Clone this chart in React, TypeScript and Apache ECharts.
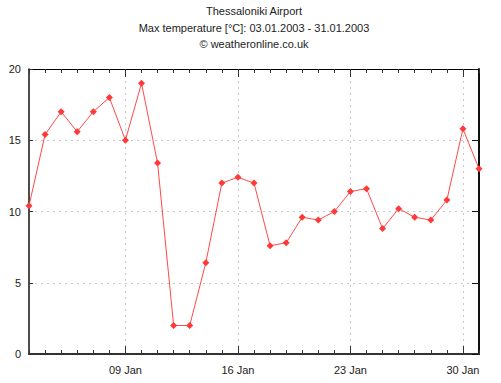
import React, { useEffect, useRef } from "react";
import * as echarts from "echarts";

const titleLines = [
  "Thessaloniki Airport",
  "Max temperature [°C]: 03.01.2003 - 31.01.2003",
  "© weatheronline.co.uk",
];

const days = [3, 4, 5, 6, 7, 8, 9, 10, 11, 12, 13, 14, 15, 16, 17, 18, 19, 20, 21, 22, 23, 24, 25, 26, 27, 28, 29, 30, 31];
const categories = days.map((d) => `${d < 10 ? "0" + d : d} Jan`);
const maxTemp = [10.4, 15.4, 17.0, 15.6, 17.0, 18.0, 15.0, 19.0, 13.4, 2.0, 2.0, 6.4, 12.0, 12.4, 12.0, 7.6, 7.8, 9.6, 9.4, 10.0, 11.4, 11.6, 8.8, 10.2, 9.6, 9.4, 10.8, 15.8, 13.0];
const labelledDays = [9, 16, 23, 30];
const yTicks = { min: 0, max: 20, interval: 5 };

const isMajor = (i: number) => labelledDays.indexOf(days[i]) >= 0;

export default function App() {
  const ref = useRef<HTMLDivElement>(null);
  useEffect(() => {
    if (!ref.current) return;
    const chart = echarts.init(ref.current, null, { renderer: "svg" });
    const font = "'Liberation Sans', Arial, sans-serif";
    const baseX = {
      type: "category" as const,
      data: categories,
      boundaryGap: false,
      gridIndex: 0,
    };
    chart.setOption({
      animation: false,
      backgroundColor: "#ffffff",
      title: titleLines.map((t, i) => ({
        text: t,
        left: 254,
        textAlign: "center",
        top: [4, 21, 37][i],
        padding: 0,
        textStyle: { fontSize: 11, fontWeight: "normal", color: "#222", fontFamily: font, lineHeight: 14 },
      })),
      grid: { left: 29, right: 22, top: 69, bottom: 29 },
      xAxis: [
        {
          ...baseX,
          position: "bottom",
          axisLine: { show: true, lineStyle: { color: "#333", width: 2 } },
          axisTick: { show: true, inside: true, length: 4, interval: 0, lineStyle: { color: "#333" } },
          axisLabel: {
            interval: (i: number) => isMajor(i),
            margin: 10,
            fontSize: 11,
            color: "#222",
            fontFamily: font,
          },
          splitLine: {
            show: true,
            interval: (i: number) => isMajor(i),
            lineStyle: { color: "#c8c8c8", type: [2, 4], width: 1 },
          },
        },
        {
          ...baseX,
          position: "bottom",
          axisLine: { show: false },
          axisTick: { show: true, inside: true, length: 8, interval: (i: number) => isMajor(i), lineStyle: { color: "#333" } },
          axisLabel: { show: false },
          splitLine: { show: false },
        },
        {
          ...baseX,
          position: "top",
          axisLine: { show: true, lineStyle: { color: "#000", width: 1 } },
          axisTick: { show: true, inside: true, length: 4, interval: 0, lineStyle: { color: "#333" } },
          axisLabel: { show: false },
          splitLine: { show: false },
        },
        {
          ...baseX,
          position: "top",
          axisLine: { show: false },
          axisTick: { show: true, inside: true, length: 8, interval: (i: number) => isMajor(i), lineStyle: { color: "#333" } },
          axisLabel: { show: false },
          splitLine: { show: false },
        },
      ],
      yAxis: [
        {
          type: "value",
          position: "left",
          ...yTicks,
          axisLine: { show: true, lineStyle: { color: "#111", width: 1.5 } },
          axisTick: { show: true, inside: true, length: 4, lineStyle: { color: "#333" } },
          axisLabel: { margin: 8, fontSize: 11, color: "#222", fontFamily: font },
          splitLine: { show: true, lineStyle: { color: "#c8c8c8", type: [2, 4], width: 1 } },
        },
        {
          type: "value",
          position: "right",
          ...yTicks,
          axisLine: { show: true, lineStyle: { color: "#111", width: 2 } },
          axisTick: { show: true, inside: true, length: 7, lineStyle: { color: "#111" } },
          axisLabel: { show: false },
          splitLine: { show: false },
        },
      ],
      series: [
        {
          type: "line",
          data: maxTemp,
          xAxisIndex: 0,
          yAxisIndex: 0,
          symbol: "diamond",
          symbolSize: 7,
          lineStyle: { color: "#ff4a4a", width: 1 },
          itemStyle: { color: "#ff3838" },
        },
      ],
    });
    return () => chart.dispose();
  }, []);
  return <div ref={ref} style={{ position: "fixed", left: 0, top: 0, width: 501, height: 383 }} />;
}
